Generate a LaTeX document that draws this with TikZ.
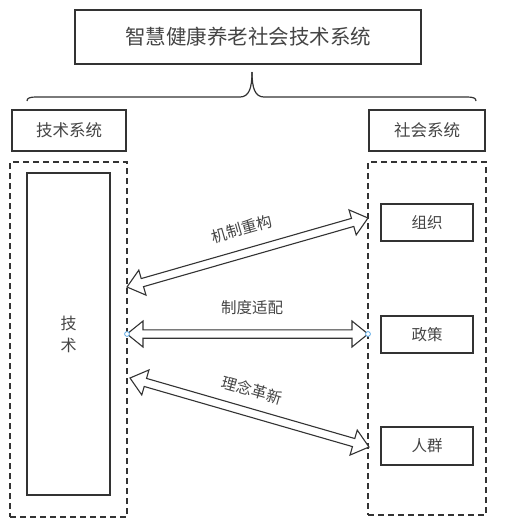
\documentclass[tikz,border=0pt]{standalone}
\usepackage{fontspec}
\setmainfont{Noto Sans CJK SC}
\usepackage{tikz}
\usetikzlibrary{calc,positioning}
\definecolor{linegray}{HTML}{333333}
\definecolor{textgray}{HTML}{444444}
\definecolor{selblue}{HTML}{5AA9E6}
\tikzset{
  box/.style={draw=linegray,line width=1.3pt,text=textgray,inner sep=0pt,align=center},
  group/.style={draw=linegray,line width=1.2pt,dash pattern=on 6pt off 4pt,inner sep=0pt},
  blockarrow/.style={draw=linegray,line width=1.1pt,fill=white,line join=miter},
  lab/.style={text=textgray,inner sep=0pt,font=\fontsize{15.5}{18}\selectfont}
}
\begin{document}
\begin{tikzpicture}[x=1pt,y=-1pt]
\useasboundingbox (0,0) rectangle (524,528);
% title and brace
\node[box,minimum width=346pt,minimum height=54pt,font=\fontsize{20.5}{24}\selectfont] (title) at (248,37) {智慧健康养老社会技术系统};
\draw[linegray,line width=1.2pt] (27,101) .. controls (27,98) and (30,97) .. (36,97) -- (240,97) .. controls (249,97) and (252,88) .. (252,72);
\draw[linegray,line width=1.2pt] (476,101) .. controls (476,98) and (473,97) .. (467,97) -- (264,97) .. controls (255,97) and (252,88) .. (252,72);
% headings
\node[box,minimum width=114pt,minimum height=41pt,font=\fontsize{16.5}{20}\selectfont] (techlab) at (69,130.5) {技术系统};
\node[box,minimum width=116pt,minimum height=41pt,font=\fontsize{16.5}{20}\selectfont] (soclab) at (427,130.5) {社会系统};
% groups
\node[group,minimum width=117pt,minimum height=355pt] (techgrp) at (68.5,339.5) {};
\node[group,minimum width=118pt,minimum height=353pt] (socgrp) at (427,338.5) {};
\node[box,minimum width=83pt,minimum height=322pt,font=\fontsize{16}{22}\selectfont] (tech) at (68.5,334) {技\\术};
\node[box,minimum width=92pt,minimum height=37pt,font=\fontsize{15.5}{18}\selectfont] (org) at (427,222.5) {组织};
\node[box,minimum width=92pt,minimum height=37pt,font=\fontsize{15.5}{18}\selectfont] (pol) at (427,334.5) {政策};
\node[box,minimum width=92pt,minimum height=38pt,font=\fontsize{15.5}{18}\selectfont] (crowd) at (427,446) {人群};
% arrow ends
\coordinate (t1) at (127,287);
\coordinate (s1) at (368,218);
\coordinate (t2) at (127,334);
\coordinate (s2) at (368,334);
\coordinate (t3) at (130,378);
\coordinate (s3) at (369,447);
\foreach \a/\b in {t1/s1,t2/s2,t3/s3}{
  \coordinate (p) at ($(\a)!16pt!(\b)$);
  \coordinate (q) at ($(\b)!16pt!(\a)$);
  \draw[blockarrow] (\a) -- ($(p)!13pt!90:(\b)$) -- ($(p)!4.2pt!90:(\b)$)
    -- ($(q)!4.2pt!-90:(\a)$) -- ($(q)!13pt!-90:(\a)$) -- (\b)
    -- ($(q)!13pt!90:(\a)$) -- ($(q)!4.2pt!90:(\a)$)
    -- ($(p)!4.2pt!-90:(\b)$) -- ($(p)!13pt!-90:(\b)$) -- cycle;
}
\draw[selblue,fill=white,line width=0.8pt] (t2) circle (2.4pt) (s2) circle (2.4pt);
% labels
\node[lab,rotate=16] (rebuild) at (242,229) {机制重构};
\node[lab] (adapt) at (252,308) {制度适配};
\node[lab,rotate=-16] (renew) at (252,390) {理念革新};
\end{tikzpicture}
\end{document}
